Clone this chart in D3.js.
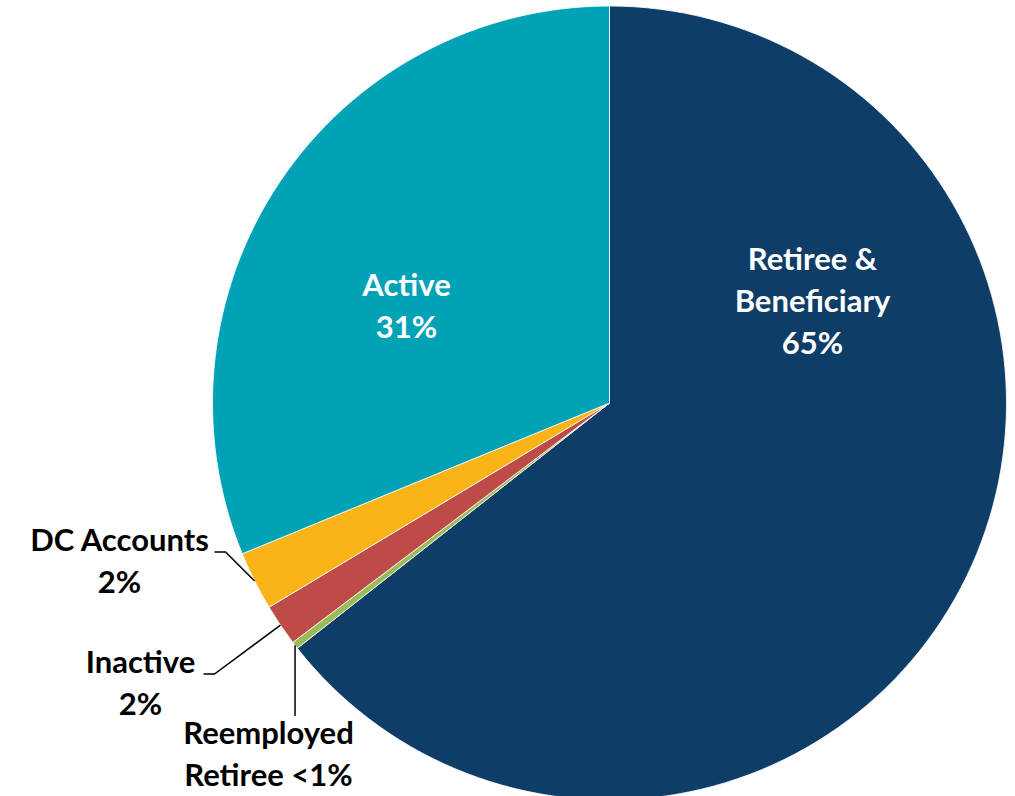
<!DOCTYPE html>
<html>
<head>
<meta charset="utf-8">
<script src="https://cdnjs.cloudflare.com/ajax/libs/d3/7.8.5/d3.min.js"></script>
<style>
  html, body { margin: 0; padding: 0; background: #fff; }
  svg { display: block; }
</style>
</head>
<body>
<div id="chart"></div>
<script>
// data, clockwise from 12 o'clock
var categories = ["Retiree & Beneficiary", "Reemployed Retiree", "Inactive", "DC Accounts", "Active"];
var values = [64.4, 0.3, 1.7, 2.4, 31.2];
var pctLabels = ["65%", "<1%", "2%", "2%", "31%"];
var labelLines = [
  ["Retiree &", "Beneficiary", "65%"],
  ["Reemployed", "Retiree <1%"],
  ["Inactive", "2%"],
  ["DC Accounts", "2%"],
  ["Active", "31%"]
];

var width = 1015, height = 796;
var cx = 609.5, cy = 403, radius = 397;
var fontFamily = "Lato, 'Open Sans', sans-serif",
    fontSize = 31,
    lineHeight = 42;

var colors = ["#0E3D68", "#9BBB59", "#BE4B48", "#FAB418", "#00A3B5"];

// label anchor (first baseline, relative to pie centre) + leader style
var labelPos = [
  { x: 203, y: -133, fill: "#fff", leader: null },
  { x: -341, y: 341, fill: "#000", leader: "vertical" },
  { x: -469, y: 270, fill: "#000", leader: "elbow", textEnd: -406 },
  { x: -490, y: 148, fill: "#000", leader: "elbow", textEnd: -395 },
  { x: -203, y: -107, fill: "#fff", leader: null }
];

var svg = d3.select("#chart").append("svg")
    .attr("width", width)
    .attr("height", height);

var g = svg.append("g")
    .attr("transform", "translate(" + cx + "," + cy + ")");

var pie = d3.pie().sort(null).value(function(d) { return d; });
var arcs = pie(values);

var arc = d3.arc().innerRadius(0).outerRadius(radius);

//SLICES
g.selectAll("path.slice")
  .data(arcs)
  .enter().append("path")
    .attr("class", "slice")
    .attr("d", arc)
    .attr("fill", function(d, i) { return colors[i]; })
    .attr("stroke", "#fff")
    .attr("stroke-width", 0.8);

//LEADER LINES
arcs.forEach(function(d, i) {
  var p = labelPos[i];
  if (!p.leader) return;
  var mid = (d.startAngle + d.endAngle) / 2;
  var ex = Math.sin(mid) * radius, ey = -Math.cos(mid) * radius;
  var pts;
  if (p.leader === "vertical") {
    pts = [[ex, ey], [ex, p.y - 28]];
  } else {
    var ly = p.y + 1;
    pts = [[ex, ey], [p.textEnd + 11, ly], [p.textEnd, ly]];
  }
  g.append("path")
    .attr("d", d3.line()(pts))
    .attr("fill", "none")
    .attr("stroke", "#000")
    .attr("stroke-width", 1.5);
});

//TEXT
var label = g.selectAll("text.label")
  .data(arcs)
  .enter().append("text")
    .attr("class", "label")
    .attr("text-anchor", "middle")
    .attr("font-family", fontFamily)
    .attr("font-weight", "bold")
    .attr("font-size", fontSize)
    .attr("fill", function(d, i) { return labelPos[i].fill; });

label.each(function(d, i) {
  var t = d3.select(this);
  labelLines[i].forEach(function(line, j) {
    t.append("tspan")
      .attr("x", labelPos[i].x)
      .attr("y", labelPos[i].y + j * lineHeight)
      .text(line);
  });
});
</script>
</body>
</html>
